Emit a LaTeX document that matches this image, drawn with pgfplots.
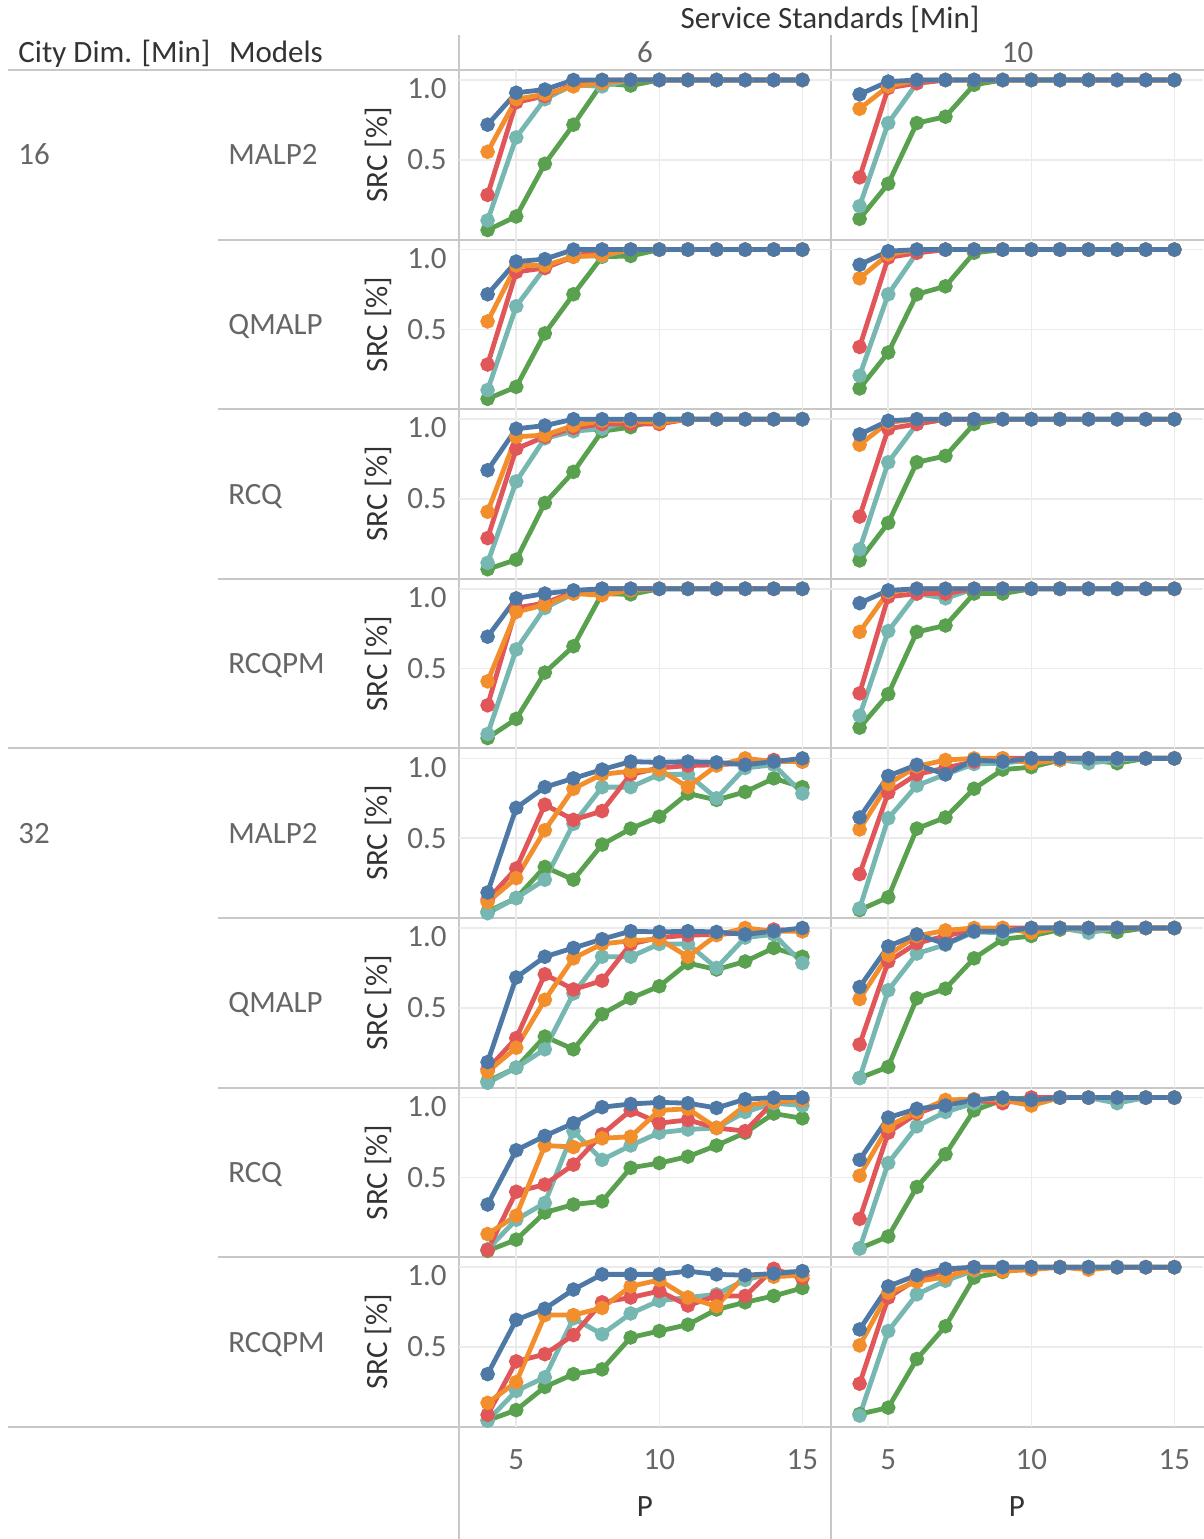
\documentclass[border=0pt]{standalone}
\usepackage{fontspec}
\setmainfont{Carlito}
\usepackage{pgfplots}
\usepackage{pgfplotstable}
\pgfplotsset{compat=1.18}
\definecolor{cB}{HTML}{4E79A7}
\definecolor{cO}{HTML}{F28E2B}
\definecolor{cR}{HTML}{E15759}
\definecolor{cT}{HTML}{76B7B2}
\definecolor{cG}{HTML}{59A14F}
\definecolor{sep}{HTML}{C8C8C8}
\definecolor{grd}{HTML}{EBEBEB}
\definecolor{txd}{HTML}{333333}
\definecolor{txg}{HTML}{666666}
\newcommand\fs{\fontsize{15.5}{18}\selectfont}

% columns: x, blue, orange, red, teal, green
\pgfplotstableread{
x b o r t g
4 .72 .55 .28 .12 .06
5 .92 .88 .86 .64 .145
6 .94 .91 .90 .88 .475
7 1 .96 .97 .97 .72
8 1 .98 1 .96 .98
9 1 1 1 1 .965
10 1 1 1 1 1
11 1 1 1 1 1
12 1 1 1 1 1
13 1 1 1 1 1
14 1 1 1 1 1
15 1 1 1 1 1
}\dAL
\pgfplotstableread{
x b o r t g
4 .91 .82 .39 .21 .13
5 .99 .96 .95 .73 .35
6 1 1 .98 .98 .73
7 1 1 1 1 .77
8 1 1 1 1 .97
9 1 1 1 1 1
10 1 1 1 1 1
11 1 1 1 1 1
12 1 1 1 1 1
13 1 1 1 1 1
14 1 1 1 1 1
15 1 1 1 1 1
}\dAR
\pgfplotstableread{
x b o r t g
4 .72 .55 .28 .12 .065
5 .925 .90 .86 .645 .14
6 .94 .90 .885 .885 .475
7 1 .955 .955 .96 .72
8 1 .965 1 .96 .955
9 1 1 1 1 .96
10 1 1 1 1 1
11 1 1 1 1 1
12 1 1 1 1 1
13 1 1 1 1 1
14 1 1 1 1 1
15 1 1 1 1 1
}\dBL
\pgfplotstableread{
x b o r t g
4 .905 .82 .39 .21 .13
5 .99 .97 .95 .72 .355
6 1 1 .98 .98 .72
7 1 1 1 1 .77
8 1 1 1 1 .98
9 1 1 1 1 1
10 1 1 1 1 1
11 1 1 1 1 1
12 1 1 1 1 1
13 1 1 1 1 1
14 1 1 1 1 1
15 1 1 1 1 1
}\dBR
\pgfplotstableread{
x b o r t g
4 .68 .42 .255 .10 .06
5 .94 .89 .815 .61 .12
6 .96 .90 .89 .88 .475
7 1 .96 .945 .925 .67
8 1 .99 .97 .94 .925
9 1 .99 .97 .99 .95
10 1 .98 .97 1 1
11 1 1 1 1 1
12 1 1 1 1 1
13 1 1 1 1 1
14 1 1 1 1 1
15 1 1 1 1 1
}\dCL
\pgfplotstableread{
x b o r t g
4 .905 .84 .39 .185 .115
5 .99 .98 .94 .73 .35
6 1 1 .97 .97 .73
7 1 1 1 1 .77
8 1 1 1 1 .97
9 1 1 1 1 1
10 1 1 1 1 1
11 1 1 1 1 1
12 1 1 1 1 1
13 1 1 1 1 1
14 1 1 1 1 1
15 1 1 1 1 1
}\dCR
\pgfplotstableread{
x b o r t g
4 .70 .42 .27 .09 .065
5 .94 .855 .88 .62 .185
6 .97 .90 .91 .88 .475
7 .99 .97 .98 .97 .64
8 1 .96 1 1 .97
9 1 .99 1 1 .965
10 1 1 1 1 1
11 1 1 1 1 1
12 1 1 1 1 1
13 1 1 1 1 1
14 1 1 1 1 1
15 1 1 1 1 1
}\dDL
\pgfplotstableread{
x b o r t g
4 .91 .73 .345 .205 .13
5 .99 .98 .95 .735 .34
6 1 1 .97 .97 .73
7 1 1 .97 .94 .77
8 1 1 1 1 .97
9 1 1 1 1 .97
10 1 1 1 1 1
11 1 1 1 1 1
12 1 1 1 1 1
13 1 1 1 1 1
14 1 1 1 1 1
15 1 1 1 1 1
}\dDR
\pgfplotstableread{
x b o r t g
4 .16 .10 .115 .03 .04
5 .69 .25 .31 .125 .125
6 .82 .55 .71 .24 .32
7 .875 .81 .615 .59 .24
8 .93 .90 .67 .82 .46
9 .98 .92 .90 .82 .56
10 .975 .93 .94 .90 .635
11 .98 .82 .955 .90 .78
12 .975 .955 .96 .75 .74
13 .96 1 .97 .94 .79
14 .98 .98 .99 .96 .875
15 1 .98 .98 .78 .82
}\dEL
\pgfplotstableread{
x b o r t g
4 .63 .555 .275 .06 .05
5 .89 .84 .785 .625 .13
6 .96 .95 .90 .83 .56
7 .90 .99 .94 .90 .63
8 .99 1 .98 .965 .81
9 .98 1 1 .97 .93
10 1 .97 1 .99 .945
11 1 .99 1 .99 .99
12 1 1 1 .97 .99
13 1 1 1 .99 .97
14 1 1 1 1 1
15 1 1 1 1 1
}\dER
\pgfplotstableread{
x b o r t g
4 .16 .10 .115 .03 .04
5 .69 .25 .31 .125 .125
6 .82 .55 .71 .24 .32
7 .875 .81 .615 .59 .24
8 .93 .90 .67 .82 .46
9 .98 .92 .90 .82 .56
10 .975 .93 .94 .90 .635
11 .98 .82 .955 .90 .78
12 .975 .955 .96 .75 .74
13 .96 1 .97 .94 .79
14 .98 .98 .99 .96 .875
15 1 .98 .98 .78 .82
}\dFL
\pgfplotstableread{
x b o r t g
4 .63 .555 .27 .06 .06
5 .885 .83 .79 .61 .13
6 .96 .95 .905 .84 .56
7 .90 .985 .95 .895 .62
8 .98 1 .99 .975 .81
9 .98 1 1 .97 .93
10 1 .97 1 1 .95
11 1 1 1 1 .99
12 1 1 1 .97 .99
13 1 1 1 1 .975
14 1 1 1 1 1
15 1 1 1 1 1
}\dFR
\pgfplotstableread{
x b o r t g
4 .33 .145 .045 .05 .04
5 .67 .26 .41 .235 .11
6 .76 .70 .455 .34 .28
7 .84 .69 .58 .79 .33
8 .94 .745 .77 .61 .35
9 .96 .755 .92 .70 .56
10 .97 .92 .84 .78 .59
11 .965 .93 .86 .80 .63
12 .935 .81 .81 .81 .70
13 .99 .95 .79 .91 .78
14 1 .975 .975 .965 .90
15 1 .985 .985 .95 .87
}\dGL
\pgfplotstableread{
x b o r t g
4 .61 .51 .24 .055 .055
5 .875 .82 .78 .59 .13
6 .93 .91 .90 .82 .44
7 .95 .985 .965 .91 .645
8 .985 .99 .985 .965 .92
9 1 .985 .965 .985 .985
10 .985 .95 1 .985 1
11 1 1 1 1 1
12 1 1 1 1 1
13 1 1 1 .965 1
14 1 1 1 1 1
15 1 1 1 1 1
}\dGR
\pgfplotstableread{
x b o r t g
4 .33 .15 .075 .04 .04
5 .67 .28 .41 .225 .105
6 .74 .70 .455 .31 .25
7 .86 .70 .575 .68 .33
8 .955 .745 .78 .58 .36
9 .955 .88 .81 .71 .56
10 .955 .92 .85 .79 .60
11 .975 .81 .76 .81 .64
12 .955 .755 .82 .83 .735
13 .95 .95 .82 .92 .78
14 .96 .94 .99 .965 .82
15 .975 .95 .93 .975 .87
}\dHL
\pgfplotstableread{
x b o r t g
4 .61 .51 .27 .07 .08
5 .88 .84 .81 .60 .12
6 .95 .91 .925 .83 .425
7 .99 .94 .98 .915 .63
8 1 .985 1 .98 .935
9 1 .975 1 1 .97
10 1 .985 1 1 1
11 1 1 1 1 1
12 1 .985 1 1 1
13 1 1 1 1 1
14 1 1 1 1 1
15 1 1 1 1 1
}\dHR

\pgfplotsset{
 panel/.style={anchor=south west, scale only axis, width=186pt, height=84.8pt,
   xmin=3, xmax=16, ymin=0, ymax=1.0625,
   axis line style={draw=none}, major tick length=0pt,
   xtick={5,10,15}, ytick={0.5,1}, xmajorgrids, ymajorgrids,
   grid style={draw=grd, line width=0.8pt},
   xticklabels={}, yticklabels={}, clip=false,
   every tick label/.append style={font=\fs, text=txg}},
 lefty/.style={yticklabels={\raisebox{-4.9pt}[0pt][0pt]{0.5},\raisebox{-9.4pt}[0pt][0pt]{1.0}},
   yticklabel style={anchor=east, inner sep=0pt, xshift=-6pt},
   ylabel={SRC [\%]},
   every axis y label/.style={at={(axis description cs:-0.2177,0.5)}, rotate=90, anchor=center, font=\fs, text=txd}},
 bottomx/.style={xticklabels={5,10,15}, xticklabel style={anchor=center, yshift=-16.6pt},
   xlabel={P},
   every axis x label/.style={at={(axis description cs:0.5,-0.4717)}, anchor=center, font=\fs, text=txd}},
 ser/.style={line width=2.4pt, mark=*, mark size=2.4pt, mark options={solid}},
}

\newcommand\panel[4]{%
\begin{axis}[panel, at={(#1,#2)}, #4]
\addplot[ser, cG] table[x=x,y=g]{#3};
\addplot[ser, cT] table[x=x,y=t]{#3};
\addplot[ser, cR] table[x=x,y=r]{#3};
\addplot[ser, cO] table[x=x,y=o]{#3};
\addplot[ser, cB] table[x=x,y=b]{#3};
\end{axis}}

\begin{document}
\begin{tikzpicture}
\useasboundingbox (0,0) rectangle (602pt,-769.5pt);
% separators
\draw[sep, line width=1pt] (4pt,-35pt) -- (602pt,-35pt);
\draw[sep, line width=1pt] (229.5pt,-17.5pt) -- (229.5pt,-769.5pt);
\draw[sep, line width=1pt] (415.5pt,-17.5pt) -- (415.5pt,-769.5pt);
\foreach \yy in {119.8,204.6,289.4,459,543.8,628.6}{\draw[sep, line width=1pt] (109pt,-\yy pt) -- (602pt,-\yy pt);}
\foreach \yy in {374.2,713.4}{\draw[sep, line width=1pt] (4pt,-\yy pt) -- (602pt,-\yy pt);}
% headers
\node[anchor=base, inner sep=0, font=\fs, text=txd] at (415pt,-14pt) {Service Standards [Min]};
\node[anchor=base, inner sep=0, font=\fs, text=txg] at (322.5pt,-31pt) {6};
\node[anchor=base, inner sep=0, font=\fs, text=txg] at (508.75pt,-31pt) {10};
\node[anchor=base west, inner sep=0, font=\fs, text=txd] at (9pt,-31pt) {City Dim. [Min]};
\node[anchor=base west, inner sep=0, font=\fs, text=txd] at (114.3pt,-31pt) {Models};
\node[anchor=base west, inner sep=0, font=\fs, text=txg] at (9pt,-82.4pt) {16};
\node[anchor=base west, inner sep=0, font=\fs, text=txg] at (9pt,-421.6pt) {32};
\node[anchor=base west, inner sep=0, font=\fs, text=txg] at (114pt,-82.4pt) {MALP2};
\node[anchor=base west, inner sep=0, font=\fs, text=txg] at (114pt,-167.2pt) {QMALP};
\node[anchor=base west, inner sep=0, font=\fs, text=txg] at (114pt,-252pt) {RCQ};
\node[anchor=base west, inner sep=0, font=\fs, text=txg] at (114pt,-336.8pt) {RCQPM};
\node[anchor=base west, inner sep=0, font=\fs, text=txg] at (114pt,-421.6pt) {MALP2};
\node[anchor=base west, inner sep=0, font=\fs, text=txg] at (114pt,-506.4pt) {QMALP};
\node[anchor=base west, inner sep=0, font=\fs, text=txg] at (114pt,-591.2pt) {RCQ};
\node[anchor=base west, inner sep=0, font=\fs, text=txg] at (114pt,-676pt) {RCQPM};
% panels
\panel{229.5pt}{-119.8pt}{\dAL}{lefty}
\panel{415.5pt}{-119.8pt}{\dAR}{}
\panel{229.5pt}{-204.6pt}{\dBL}{lefty}
\panel{415.5pt}{-204.6pt}{\dBR}{}
\panel{229.5pt}{-289.4pt}{\dCL}{lefty}
\panel{415.5pt}{-289.4pt}{\dCR}{}
\panel{229.5pt}{-374.2pt}{\dDL}{lefty}
\panel{415.5pt}{-374.2pt}{\dDR}{}
\panel{229.5pt}{-459pt}{\dEL}{lefty}
\panel{415.5pt}{-459pt}{\dER}{}
\panel{229.5pt}{-543.8pt}{\dFL}{lefty}
\panel{415.5pt}{-543.8pt}{\dFR}{}
\panel{229.5pt}{-628.6pt}{\dGL}{lefty}
\panel{415.5pt}{-628.6pt}{\dGR}{}
\panel{229.5pt}{-713.4pt}{\dHL}{lefty,bottomx}
\panel{415.5pt}{-713.4pt}{\dHR}{bottomx}
\end{tikzpicture}
\end{document}
